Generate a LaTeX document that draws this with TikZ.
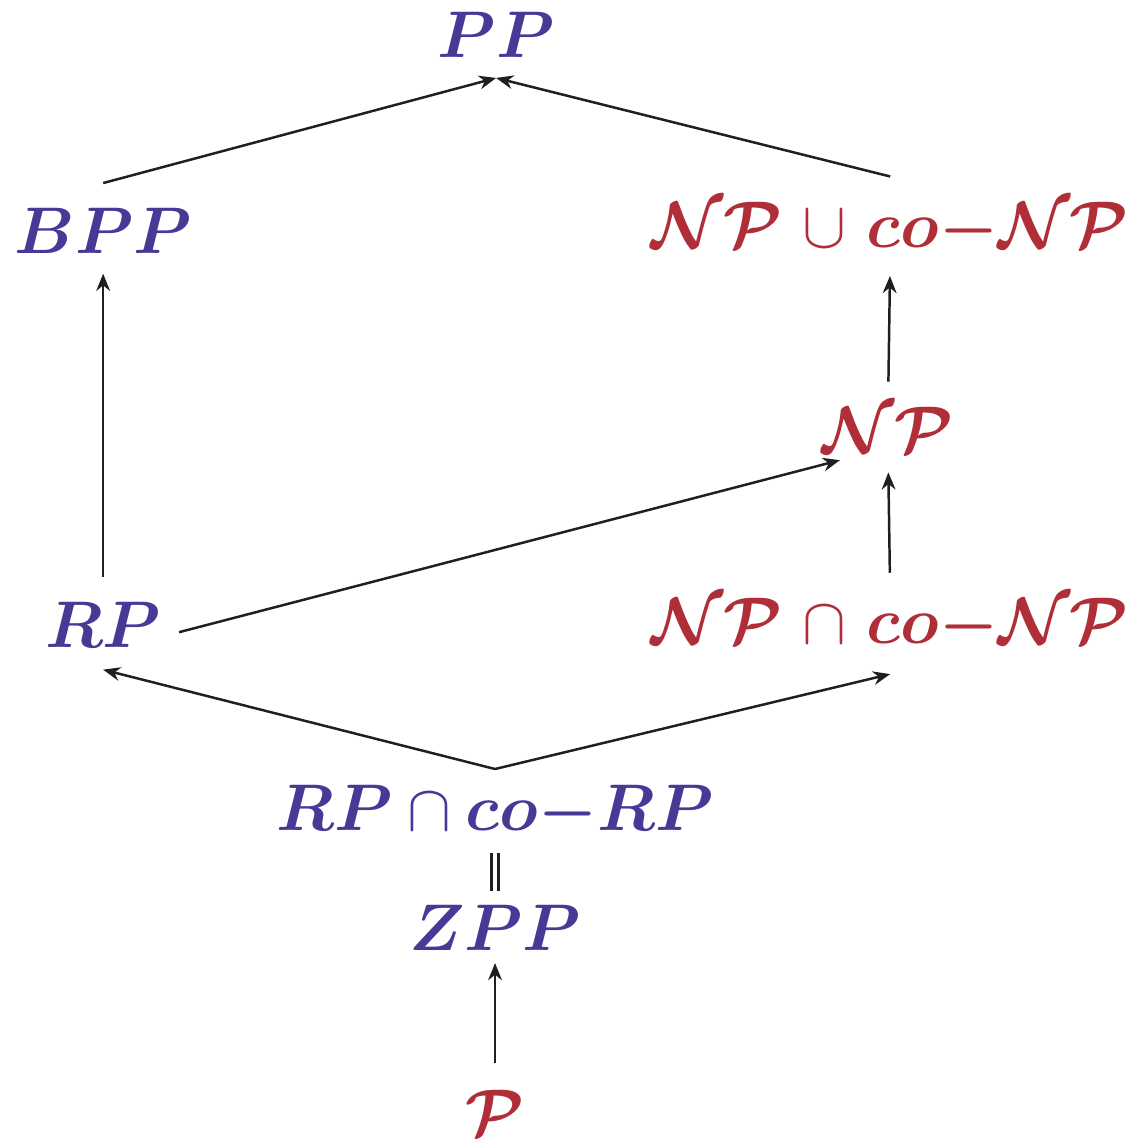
\documentclass[tikz,border=0pt]{standalone}
\usepackage{amsmath,amssymb}
\usepackage{bm}
\usetikzlibrary{arrows.meta}
\definecolor{CLblue}{HTML}{463A96}
\definecolor{CLred}{HTML}{AF2E37}

\begin{document}
\begin{tikzpicture}[
  x=1cm,y=1cm,
  cls/.style={font=\LARGE,inner sep=0pt},
  prob/.style={cls,CLblue},
  nondet/.style={cls,CLred},
  incl/.style={-{Stealth[length=4.5pt,width=3.6pt]},black!88,line width=0.65pt,shorten <=6.5pt,shorten >=5pt},
  same/.style={black!88,double,double distance=1.1pt,line width=0.8pt}
]
  \useasboundingbox (0,0) rectangle (10.43,-10.51);
  \node[prob]   (pp)     at (4.57,-0.32)  {$\bm{PP}$};
  \node[prob]   (bpp)    at (0.95,-2.13)  {$\bm{BPP}$};
  \node[nondet] (npucnp) at (8.20,-2.11)  {$\bm{\mathcal{NP}}\mkern1.5mu\cup\mkern1.5mu\bm{co{-}\mathcal{NP}}$};
  \node[nondet] (np)     at (8.18,-3.96)  {$\bm{\mathcal{NP}}$};
  \node[prob]   (rp)     at (0.95,-5.76)  {$\bm{RP}$};
  \node[nondet] (npncnp) at (8.20,-5.76)  {$\bm{\mathcal{NP}}\mkern1.5mu\cap\mkern1.5mu\bm{co{-}\mathcal{NP}}$};
  \node[prob]   (rpncrp) at (4.56,-7.48)  {$\bm{RP}\cap\bm{co{-}RP}$};
  \node[prob]   (zpp)    at (4.56,-8.55)  {$\bm{ZPP}$};
  \node[nondet] (p)      at (4.56,-10.25) {$\bm{\mathcal{P}}$};
  \draw[incl,shorten <=0pt,shorten >=0pt] ([yshift=6.5pt]bpp.north) -- ([yshift=-5.2pt]pp.south);
  \draw[incl,shorten <=0pt,shorten >=0pt] ([yshift=6.5pt]npucnp.north) -- ([yshift=-5.2pt]pp.south);
  \draw[incl] (rp.north) -- (bpp.south);
  \draw[incl] (np.north) -- (npucnp.south);
  \draw[incl] (npncnp.north) -- (np.south);
  \draw[incl,shorten <=0pt,shorten >=0pt] ([xshift=4.5pt,yshift=-1.8pt]rp.east) -- ([xshift=-12.6pt,yshift=-1.8pt]np.south);
  \draw[incl,shorten <=0pt,shorten >=0pt] ([yshift=4pt]rpncrp.north) -- ([yshift=-5.5pt]rp.south);
  \draw[incl,shorten <=0pt,shorten >=0pt] ([yshift=4pt]rpncrp.north) -- ([yshift=-5.5pt]npncnp.south);
  \draw[incl,shorten <=0pt,shorten >=0pt] ([yshift=7pt]p.north) -- ([yshift=-3pt]zpp.south);
  \draw[same] ([yshift=-3.5pt]rpncrp.south) -- ([yshift=3.5pt]zpp.north);
\end{tikzpicture}
\end{document}
